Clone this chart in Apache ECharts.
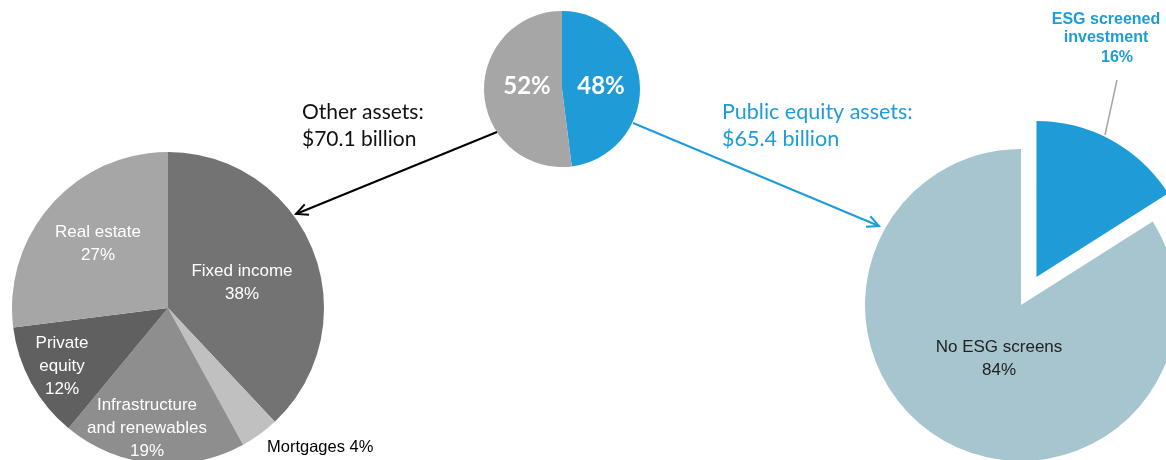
<!DOCTYPE html>
<html><head><meta charset="utf-8">
<script src="https://cdn.jsdelivr.net/npm/echarts@6/dist/echarts.min.js"></script>
<style>html,body{margin:0;padding:0;background:#fff}#c{width:1166px;height:460px}</style>
</head><body><div id="c"></div>
<script>
// ---- data ----
const splitCategories = ['Public equity assets', 'Other assets'];
const splitValues = [48, 52];
const splitColors = ['#1f9cd8', '#a6a6a6'];

const otherCategories = ['Fixed income', 'Mortgages', 'Infrastructure\nand renewables', 'Private\nequity', 'Real estate'];
const otherValues = [38, 4, 19, 12, 27];
const otherColors = ['#737373', '#c0c0c0', '#8e8e8e', '#5f605f', '#a6a6a6'];

const equityCategories = ['ESG screened\ninvestment', 'No ESG screens'];
const equityValues = [16, 84];
const equityColors = ['#1f9cd8', '#a6c5ce'];

const otherTitle = ['Other assets:', '$70.1 billion'];
const equityTitle = ['Public equity assets:', '$65.4 billion'];

// ---- layout (positions kept out of data) ----
const smallPie = { c: [562, 89], r: 78 };
const leftPie = { c: [168, 308], r: 156 };
const rightPie = { c: [1021, 305], r: 156 };
const explodeOffset = 32;

const leftLabelPos = [[242, 283, 'center'], [267, 447, 'left'], [147, 428, 'center'], [62, 366, 'center'], [98, 244, 'center']];
const smallLabelPos = [[601, 86], [527, 86]];
const rightLabelPos = [[1106, 39], [999, 359]];

// exploded slice center: shift along the mid-angle of the first slice
const eqTotal = equityValues.reduce((a, b) => a + b, 0);
const midAng = (equityValues[0] / eqTotal) * Math.PI; // from 12 o'clock, clockwise
const explodedCenter = [rightPie.c[0] + explodeOffset * Math.sin(midAng), rightPie.c[1] - explodeOffset * Math.cos(midAng)];

function arrow(x1, y1, x2, y2, color) {
  const a = Math.atan2(y2 - y1, x2 - x1);
  const L = 13, w = 0.45;
  const p1 = [x2 - L * Math.cos(a - w), y2 - L * Math.sin(a - w)];
  const p2 = [x2 - L * Math.cos(a + w), y2 - L * Math.sin(a + w)];
  return [
    { type: 'line', shape: { x1, y1, x2, y2 }, style: { stroke: color, lineWidth: 2 }, z: 10 },
    { type: 'polyline', shape: { points: [p1, [x2, y2], p2] }, style: { stroke: color, lineWidth: 2, fill: null }, z: 10 }
  ];
}

const hidden = { color: 'rgba(0,0,0,0)' };

const chart = echarts.init(document.getElementById('c'), null, { renderer: 'canvas' });
chart.setOption({
  animation: false,
  backgroundColor: '#ffffff',
  graphic: [
    ...arrow(497, 132, 296, 214, '#000000'),
    ...arrow(633, 123, 879, 226, '#1f9cd8'),
    { type: 'line', shape: { x1: 1117, y1: 80, x2: 1105, y2: 135 }, style: { stroke: '#a6a6a6', lineWidth: 1.5 }, z: 1 },
    { type: 'text', left: 302, top: 99, style: { text: otherTitle.join('\n'), font: '21px Lato', fill: '#111111', lineHeight: 27 } },
    { type: 'text', left: 722, top: 99, style: { text: equityTitle.join('\n'), font: '21.5px Lato', fill: '#1f9cd8', lineHeight: 27 } }
  ],
  series: [
    {
      type: 'pie', center: smallPie.c, radius: smallPie.r, startAngle: 90, clockwise: true,
      silent: true, emphasis: { disabled: true },
      data: splitCategories.map((n, i) => ({ name: n, value: splitValues[i], itemStyle: { color: splitColors[i] } })),
      label: { position: 'inside', formatter: '{c}%', color: '#ffffff', fontFamily: 'Lato', fontWeight: 'bold', fontSize: 24 },
      labelLayout: p => ({ x: smallLabelPos[p.dataIndex][0], y: smallLabelPos[p.dataIndex][1], align: 'center', verticalAlign: 'middle' })
    },
    {
      type: 'pie', center: leftPie.c, radius: leftPie.r, startAngle: 90, clockwise: true,
      silent: true, emphasis: { disabled: true },
      data: otherCategories.map((n, i) => ({
        name: n, value: otherValues[i], itemStyle: { color: otherColors[i] },
        label: i === 1 ? { formatter: '{b} {c}%', color: '#000000', fontSize: 16.5 } : undefined
      })),
      label: { position: 'inside', formatter: '{b}\n{c}%', color: '#ffffff', fontFamily: 'Liberation Sans', fontSize: 17, lineHeight: 23, overflow: 'none' },
      labelLine: { show: false },
      labelLayout: p => ({ x: leftLabelPos[p.dataIndex][0], y: leftLabelPos[p.dataIndex][1], align: leftLabelPos[p.dataIndex][2], verticalAlign: 'middle' })
    },
    {
      // main body of the public-equity pie (No ESG screens)
      type: 'pie', center: rightPie.c, radius: rightPie.r, startAngle: 90, clockwise: true,
      silent: true, emphasis: { disabled: true },
      data: equityCategories.map((n, i) => ({
        name: n, value: equityValues[i],
        itemStyle: i === 1 ? { color: equityColors[i] } : hidden,
        label: i === 1 ? { show: true, color: '#222222', fontSize: 17, lineHeight: 23 } : { show: false }
      })),
      label: { position: 'inside', formatter: '{b}\n{c}%', fontFamily: 'Liberation Sans', overflow: 'none' },
      labelLine: { show: false },
      labelLayout: p => ({ x: rightLabelPos[p.dataIndex][0], y: rightLabelPos[p.dataIndex][1], align: 'center', verticalAlign: 'middle' })
    },
    {
      // exploded slice (ESG screened investment)
      type: 'pie', center: explodedCenter, radius: rightPie.r, startAngle: 90, clockwise: true,
      silent: true, emphasis: { disabled: true },
      data: equityCategories.map((n, i) => ({
        name: n, value: equityValues[i],
        itemStyle: i === 0 ? { color: equityColors[i] } : hidden,
        label: i === 0 ? {
          show: true, formatter: '{b}\n{v|{c}%}', color: '#1f9cd8', fontWeight: 'bold', fontSize: 16, lineHeight: 18,
          rich: { v: { color: '#1f9cd8', fontWeight: 'bold', fontSize: 16, lineHeight: 20, fontFamily: 'Liberation Sans', padding: [2, 0, 0, 22] } }
        } : { show: false }
      })),
      label: { position: 'inside', formatter: '{b}\n{c}%', fontFamily: 'Liberation Sans', overflow: 'none' },
      labelLine: { show: false },
      labelLayout: p => ({ x: rightLabelPos[p.dataIndex][0], y: rightLabelPos[p.dataIndex][1], align: 'center', verticalAlign: 'middle' })
    }
  ]
});
</script></body></html>
